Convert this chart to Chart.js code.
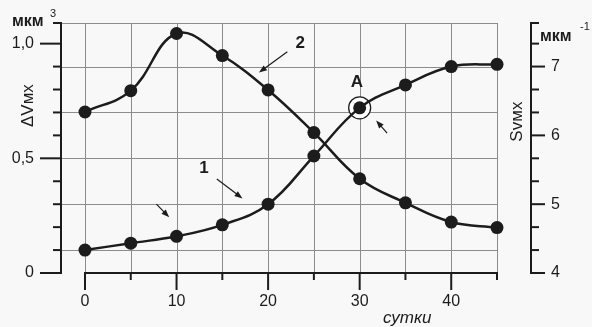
<!DOCTYPE html>
<html>
<head>
<meta charset="utf-8">
<script src="https://cdn.jsdelivr.net/npm/chart.js@4.4.1/dist/chart.umd.min.js"></script>
<style>
  html, body { margin: 0; padding: 0; background: #f8f8f8; }
  #wrap { width: 592px; height: 327px; }
</style>
</head>
<body>
<div id="wrap"><canvas id="chart" width="592" height="327"></canvas></div>
<script>
// Days of observation
const days = [0, 5, 10, 15, 20, 25, 30, 35, 40, 45];
// Curve 1: ΔVмх, мкм³ (left axis)
const deltaV = [0.10, 0.13, 0.16, 0.21, 0.30, 0.51, 0.72, 0.82, 0.90, 0.91];
// Curve 2: Svмх, мкм⁻¹ (right axis)
const sv = [6.34, 6.65, 7.48, 7.16, 6.66, 6.04, 5.37, 5.02, 4.74, 4.66];

// Tick labels
const xTickLabels = [0, 10, 20, 30, 40];
const leftTickValues = [0, 0.5, 1.0];
const leftTickLabels = ['0', '0,5', '1,0'];
const rightTickLabels = [4, 5, 6, 7];

const INK = '#1c1c1c';
const GRID = '#8c8c8c';
const FONT = '"Liberation Sans", Arial, sans-serif';

/**
 * Axes, grid and annotations drawn from the chart's own scales
 */
const figurePlugin = {
    id: 'figure',
    beforeDatasetsDraw(chart) {
        const ctx = chart.ctx;
        const area = chart.chartArea;
        const x = chart.scales.x;
        const yL = chart.scales.yL;

        ctx.save();
        ctx.strokeStyle = GRID;
        ctx.lineWidth = 1;
        // vertical grid every 5 days
        for (let d = 0; d <= 45; d += 5) {
            const px = Math.round(x.getPixelForValue(d)) + 0.5;
            ctx.beginPath();
            ctx.moveTo(px, area.top);
            ctx.lineTo(px, area.bottom);
            ctx.stroke();
        }
        // horizontal grid at 0.1, 0.3, ... and the top edge
        const rows = [0.1, 0.3, 0.5, 0.7, 0.9, yL.max];
        rows.forEach(v => {
            const py = Math.round(yL.getPixelForValue(v)) + 0.5;
            ctx.beginPath();
            ctx.moveTo(area.left, py);
            ctx.lineTo(area.right, py);
            ctx.stroke();
        });

        // ring around point A (day 30 of curve 1)
        const ax = x.getPixelForValue(days[6]);
        const ay = yL.getPixelForValue(deltaV[6]);
        ctx.beginPath();
        ctx.arc(ax, ay, 11, 0, Math.PI * 2);
        ctx.fillStyle = '#ffffff';
        ctx.fill();
        ctx.strokeStyle = INK;
        ctx.lineWidth = 1.3;
        ctx.stroke();
        ctx.restore();
    },
    afterDatasetsDraw(chart) {
        const ctx = chart.ctx;
        const area = chart.chartArea;
        const x = chart.scales.x;
        const yL = chart.scales.yL;
        const yR = chart.scales.yR;

        ctx.save();
        ctx.strokeStyle = INK;
        ctx.fillStyle = INK;
        ctx.lineWidth = 2;
        ctx.lineCap = 'butt';

        // left axis
        const lx = area.left;
        ctx.beginPath();
        ctx.moveTo(lx, area.top);
        ctx.lineTo(lx, area.bottom);
        ctx.stroke();
        for (let i = 0; i <= 10; i++) {
            const v = i / 10;
            const py = yL.getPixelForValue(v);
            const len = (i % 5 === 0) ? 21 : 8;
            ctx.beginPath();
            ctx.moveTo(lx + 1, py);
            ctx.lineTo(lx - len, py);
            ctx.stroke();
        }
        ctx.beginPath();
        ctx.moveTo(lx + 1, area.top);
        ctx.lineTo(lx - 8, area.top);
        ctx.stroke();

        ctx.font = '16px ' + FONT;
        ctx.textAlign = 'right';
        ctx.textBaseline = 'middle';
        leftTickValues.forEach((v, i) => {
            ctx.fillText(leftTickLabels[i], lx - 27, yL.getPixelForValue(v));
        });

        // bottom (days) axis
        const bx0 = x.getPixelForValue(0);
        const bx1 = x.getPixelForValue(45);
        const by = area.bottom;
        ctx.beginPath();
        ctx.moveTo(bx0, by);
        ctx.lineTo(bx1 + 1, by);
        ctx.stroke();
        for (let d = 0; d <= 45; d += 5) {
            const px = x.getPixelForValue(d);
            const len = (d % 10 === 0) ? 17 : 7;
            ctx.beginPath();
            ctx.moveTo(px, by - 1);
            ctx.lineTo(px, by + len);
            ctx.stroke();
        }
        ctx.textAlign = 'center';
        xTickLabels.forEach(d => {
            ctx.fillText(String(d), x.getPixelForValue(d), by + 29);
        });
        ctx.font = 'italic 17px ' + FONT;
        ctx.fillText('сутки', x.getPixelForValue(35.2), by + 45);

        // right axis
        const rx = area.right + 34;
        ctx.beginPath();
        ctx.moveTo(rx, area.top);
        ctx.lineTo(rx, area.bottom);
        ctx.stroke();
        for (let i = 0; i * (1 / 3) <= yR.max - yR.min + 1e-6; i++) {
            const v = yR.min + i / 3;
            const py = yR.getPixelForValue(v);
            const len = (i % 3 === 0) ? 14 : 8;
            ctx.beginPath();
            ctx.moveTo(rx - 1, py);
            ctx.lineTo(rx + len, py);
            ctx.stroke();
        }
        ctx.beginPath();
        ctx.moveTo(rx - 1, area.top);
        ctx.lineTo(rx + 8, area.top);
        ctx.stroke();
        ctx.font = '16px ' + FONT;
        ctx.textAlign = 'left';
        rightTickLabels.forEach(v => {
            ctx.fillText(String(v), rx + 20, yR.getPixelForValue(v));
        });

        // axis titles and units
        ctx.font = '17px ' + FONT;
        ctx.textAlign = 'center';
        ctx.save();
        ctx.translate(28, yL.getPixelForValue(0.73));
        ctx.rotate(-Math.PI / 2);
        ctx.fillText('ΔVмх', 0, 0);
        ctx.restore();
        ctx.save();
        ctx.translate(area.right + 20, yL.getPixelForValue(0.66));
        ctx.rotate(-Math.PI / 2);
        ctx.fillText('Svмх', 0, 0);
        ctx.restore();

        ctx.font = 'bold 16px ' + FONT;
        ctx.textAlign = 'left';
        ctx.textBaseline = 'alphabetic';
        ctx.fillText('мкм', 12, 26);
        ctx.font = '11px ' + FONT;
        ctx.fillText('3', 50, 17);
        ctx.font = 'bold 16px ' + FONT;
        ctx.fillText('мкм', rx + 9, 41);
        ctx.font = '11px ' + FONT;
        ctx.fillText('-1', rx + 49, 30);

        // annotations (in data units of the days / ΔV scales)
        const P = (d, v) => [x.getPixelForValue(d), yL.getPixelForValue(v)];
        ctx.font = 'bold 17px ' + FONT;
        ctx.textAlign = 'center';
        ctx.textBaseline = 'middle';
        let p = P(29.7, 0.83); ctx.fillText('A', p[0], p[1]);
        p = P(23.5, 1.0); ctx.fillText('2', p[0], p[1]);
        p = P(13.0, 0.457); ctx.fillText('1', p[0], p[1]);

        const arrow = (from, to) => {
            const a = P(from[0], from[1]);
            const b = P(to[0], to[1]);
            const ang = Math.atan2(b[1] - a[1], b[0] - a[0]);
            const hl = 8, hw = 3;
            ctx.lineWidth = 1.2;
            ctx.beginPath();
            ctx.moveTo(a[0], a[1]);
            ctx.lineTo(b[0] - Math.cos(ang) * hl * 0.8, b[1] - Math.sin(ang) * hl * 0.8);
            ctx.stroke();
            ctx.beginPath();
            ctx.moveTo(b[0], b[1]);
            ctx.lineTo(b[0] - Math.cos(ang) * hl - Math.sin(ang) * hw, b[1] - Math.sin(ang) * hl + Math.cos(ang) * hw);
            ctx.lineTo(b[0] - Math.cos(ang) * hl + Math.sin(ang) * hw, b[1] - Math.sin(ang) * hl - Math.cos(ang) * hw);
            ctx.closePath();
            ctx.fill();
        };
        arrow([22.1, 0.965], [19.0, 0.874]);
        arrow([14.4, 0.41], [17.2, 0.325]);
        arrow([7.8, 0.30], [9.2, 0.243]);
        arrow([33.0, 0.61], [31.8, 0.665]);

        ctx.restore();
    }
};

const ctx = document.getElementById('chart').getContext('2d');

new Chart(ctx, {
    type: 'line',
    data: {
        datasets: [{
            label: 'ΔVмх',
            data: days.map((d, i) => ({ x: d, y: deltaV[i] })),
            yAxisID: 'yL',
            borderColor: INK,
            borderWidth: 2.5,
            backgroundColor: INK,
            pointBackgroundColor: INK,
            pointBorderWidth: 0,
            pointRadius: 6.5,
            tension: 0.4,
            clip: false
        }, {
            label: 'Svмх',
            data: days.map((d, i) => ({ x: d, y: sv[i] })),
            yAxisID: 'yR',
            borderColor: INK,
            borderWidth: 2.5,
            backgroundColor: INK,
            pointBackgroundColor: INK,
            pointBorderWidth: 0,
            pointRadius: 6.5,
            tension: 0.4,
            clip: false
        }]
    },
    options: {
        responsive: false,
        animation: false,
        layout: {
            padding: { left: 61, top: 23, right: 95, bottom: 54 }
        },
        plugins: {
            legend: { display: false },
            tooltip: { enabled: false }
        },
        scales: {
            x: { type: 'linear', display: false, min: -2.62, max: 45 },
            yL: { type: 'linear', display: false, position: 'left', min: 0, max: 1.09 },
            yR: { type: 'linear', display: false, position: 'right', min: 4, max: 7.633 }
        }
    },
    plugins: [figurePlugin]
});
</script>
</body>
</html>
